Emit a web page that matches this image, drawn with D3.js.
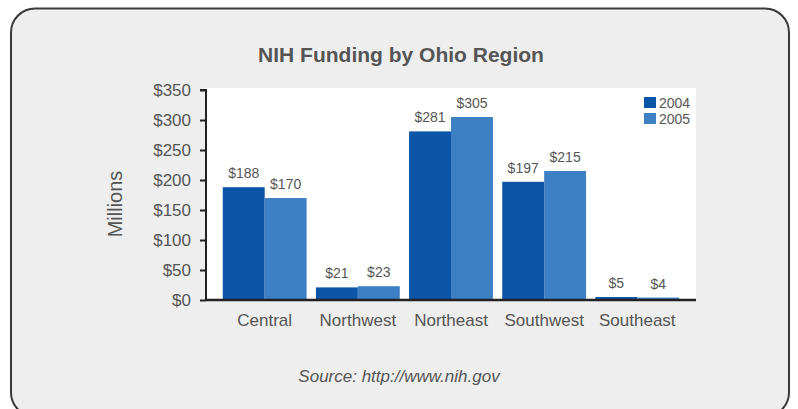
<!DOCTYPE html>
<html><head><meta charset="utf-8">
<script src="https://cdn.jsdelivr.net/npm/d3@7"></script>
<style>body{margin:0;background:#fff}svg{display:block}text{font-family:"Liberation Sans",Arial,sans-serif}</style>
</head><body><svg id="c" width="798" height="409"></svg>
<script>
const categories = ["Central","Northwest","Northeast","Southwest","Southeast"];
const years = ["2004","2005"];
const values2004 = [188,21,281,197,5];
const values2005 = [170,23,305,215,4];
const yTicks = [0,50,100,150,200,250,300,350];
const colors = ["#0b55a6","#3d80c4"];

const svg = d3.select("#c");
svg.append("rect").attr("x",11).attr("y",8.5).attr("width",778).attr("height",408)
  .attr("rx",24).attr("fill","#eeeeee").attr("stroke","#3a3a3a").attr("stroke-width",2);

const x0 = 206, x1 = 696, yTop = 88, yBase = 300;
const x = d3.scaleBand().domain(categories).range([x0,x1]).paddingInner(0.1).paddingOuter(0.18);
const xs = d3.scaleBand().domain(years).range([0,x.bandwidth()]);
const y = d3.scaleLinear().domain([0,350]).range([yBase,90]);

svg.append("rect").attr("x",x0).attr("y",yTop).attr("width",x1-x0).attr("height",yBase-yTop).attr("fill","#fff");

svg.append("text").attr("x",401).attr("y",62).attr("text-anchor","middle")
  .attr("font-size",21).attr("font-weight","bold").attr("fill","#555").text("NIH Funding by Ohio Region");

const data = categories.map((c,i)=>({cat:c, vals:[values2004[i],values2005[i]]}));
const g = svg.append("g");
data.forEach(d=>{
  d.vals.forEach((v,j)=>{
    const bx = x(d.cat)+xs(years[j]);
    g.append("rect").attr("x",bx).attr("y",y(v)).attr("width",xs.bandwidth()).attr("height",yBase-y(v)).attr("fill",colors[j]);
    g.append("text").attr("x",bx+xs.bandwidth()/2).attr("y",y(v)-9).attr("text-anchor","middle")
      .attr("font-size",14).attr("fill","#555").text("$"+v);
  });
});

// y axis
const ya = svg.append("g").attr("transform",`translate(${x0},0)`)
  .call(d3.axisLeft(y).tickValues(yTicks).tickSize(6).tickPadding(9).tickFormat(d=>"$"+d));
ya.select(".domain").attr("stroke","#222").attr("stroke-width",2).attr("d",`M-6,90H0V${yBase}`);
ya.selectAll(".tick line").attr("stroke","#222").attr("stroke-width",2);
ya.selectAll(".tick text").attr("font-size",17).attr("fill","#555").attr("font-family","Liberation Sans, Arial, sans-serif");

// x axis
const xa = svg.append("g").attr("transform",`translate(0,${yBase})`)
  .call(d3.axisBottom(x).tickSize(0).tickPadding(14));
xa.select(".domain").attr("stroke","#222").attr("stroke-width",2.5).attr("d",`M${x0},0H${x1}`);
xa.selectAll(".tick text").attr("font-size",17).attr("fill","#555").attr("font-family","Liberation Sans, Arial, sans-serif");

svg.append("text").attr("transform","translate(122,204) rotate(-90)").attr("text-anchor","middle")
  .attr("font-size",20).attr("fill","#555").text("Millions");

// legend
years.forEach((yr,j)=>{
  svg.append("rect").attr("x",644).attr("y",97+j*16).attr("width",12).attr("height",11).attr("fill",colors[j]);
  svg.append("text").attr("x",659).attr("y",108+j*16).attr("font-size",14).attr("fill","#555").text(yr);
});

svg.append("text").attr("x",399).attr("y",382).attr("text-anchor","middle").attr("font-size",17)
  .attr("font-style","italic").attr("fill","#555").text("Source: http://www.nih.gov");
</script></body></html>
